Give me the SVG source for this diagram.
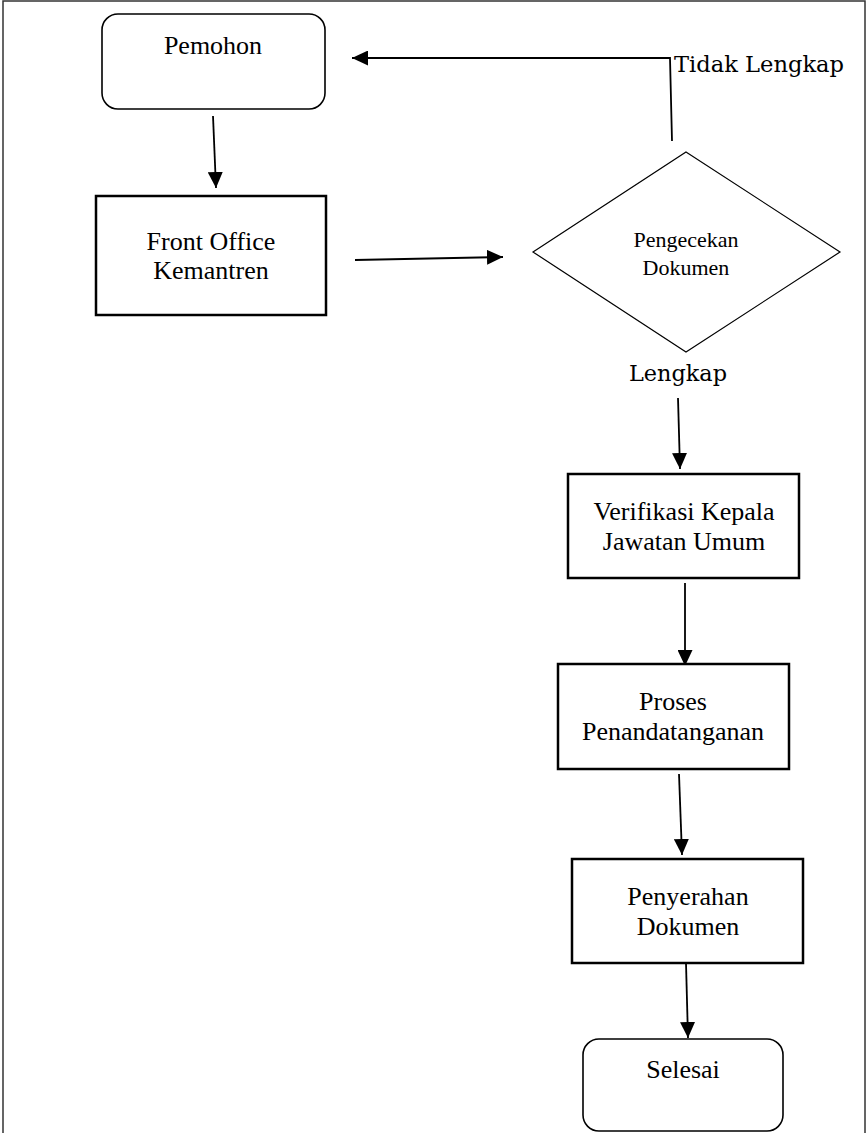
<svg xmlns="http://www.w3.org/2000/svg" width="867" height="1133" viewBox="0 0 867 1133">
<style>
.t{font-family:"Liberation Serif","Times New Roman",serif;font-size:26px;fill:#000;text-anchor:middle}
.s{font-family:"Liberation Serif","Times New Roman",serif;font-size:22px;fill:#000;text-anchor:middle}
.b{font-family:"DejaVu Serif","Liberation Serif",serif;font-size:22px;fill:#000}
.box{fill:#fff;stroke:#000;stroke-width:2.5}
.rnd{fill:#fff;stroke:#000;stroke-width:1.6}
.dia{fill:#fff;stroke:#000;stroke-width:1.2}
.c{fill:none;stroke:#000;stroke-width:1.8}
</style>
<defs>
<marker id="ah" markerUnits="userSpaceOnUse" markerWidth="16" markerHeight="15" refX="16" refY="7.5" orient="auto">
<path d="M0,0 L16,7.5 L0,15 z" fill="#000"/>
</marker>
</defs>
<rect x="0" y="0" width="867" height="1133" fill="#fff"/>
<rect x="3" y="1" width="862" height="1145" fill="none" stroke="#333" stroke-width="1.5"/>
<g id="connectors">
<line class="c" x1="213" y1="116" x2="216" y2="188" marker-end="url(#ah)"/>
<line class="c" x1="355" y1="260" x2="503" y2="257" marker-end="url(#ah)"/>
<polyline class="c" points="672,141 670,58 352,58" marker-end="url(#ah)"/>
<line class="c" x1="678" y1="398" x2="680" y2="469" marker-end="url(#ah)"/>
<line class="c" x1="685" y1="583" x2="685" y2="666" marker-end="url(#ah)"/>
<line class="c" x1="679" y1="774" x2="682" y2="855" marker-end="url(#ah)"/>
<line class="c" x1="686" y1="963" x2="688" y2="1038" marker-end="url(#ah)"/>
<text class="b" x="674" y="72" textLength="170" lengthAdjust="spacingAndGlyphs">Tidak Lengkap</text>
<text class="b" x="629" y="381" textLength="98" lengthAdjust="spacingAndGlyphs">Lengkap</text>
</g>
<g id="pemohon">
<rect class="rnd" x="102" y="14" width="223" height="95" rx="16"/>
<text class="t" x="213" y="54">Pemohon</text>
</g>
<g id="front-office">
<rect class="box" x="96" y="196" width="230" height="119"/>
<text class="t" x="211" y="250">Front Office</text>
<text class="t" x="211" y="279">Kemantren</text>
</g>
<g id="pengecekan">
<polygon class="dia" points="686,152 840,252 686,352 533,252"/>
<text class="s" x="686" y="247">Pengecekan</text>
<text class="s" x="686" y="275">Dokumen</text>
</g>
<g id="verifikasi">
<rect class="box" x="568" y="474" width="231" height="104"/>
<text class="t" x="684" y="520">Verifikasi Kepala</text>
<text class="t" x="684" y="550">Jawatan Umum</text>
</g>
<g id="proses">
<rect class="box" x="558" y="664" width="231" height="105"/>
<text class="t" x="673" y="710">Proses</text>
<text class="t" x="673" y="740">Penandatanganan</text>
</g>
<g id="penyerahan">
<rect class="box" x="572" y="859" width="231" height="104"/>
<text class="t" x="688" y="905">Penyerahan</text>
<text class="t" x="688" y="935">Dokumen</text>
</g>
<g id="selesai">
<rect class="rnd" x="583" y="1039" width="200" height="92" rx="16"/>
<text class="t" x="683" y="1078">Selesai</text>
</g>
</svg>
